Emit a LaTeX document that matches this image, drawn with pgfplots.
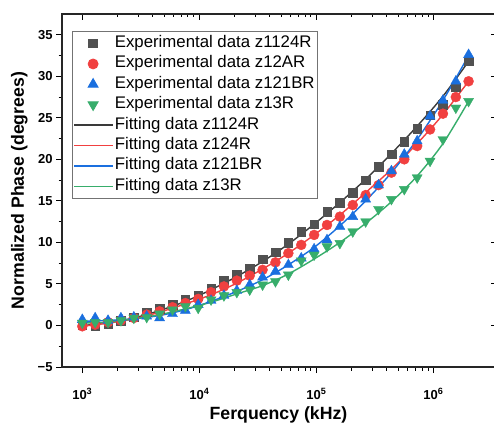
\documentclass[border=0pt]{standalone}
\usepackage{fontspec}
\setmainfont{Liberation Sans}
\usepackage{pgfplots}
\usepackage{pgfplotstable}
\pgfplotsset{compat=1.18}
\pgfplotsset{legend image code/.code={\draw[mark repeat=2,mark phase=2,#1] plot coordinates {(0pt,0pt) (19pt,0pt) (38pt,0pt)};}}
\definecolor{cblk}{HTML}{515151}
\definecolor{cblkl}{HTML}{3A3A3A}
\definecolor{cred}{HTML}{F14040}
\definecolor{cblu}{HTML}{1A6FDF}
\definecolor{cgrn}{HTML}{37AD6B}
\pgfplotstableread{
f        blk   red   blu   grn
1000     0.1  -0.1   0.7   0.3
1288    -0.1   0.1   0.9   0.4
1660     0.2   0.4   0.6   0.4
2139     0.6   0.6   0.9   0.6
2757     1.0   0.9   1.0   0.9
3552     1.6   1.3   1.1   1.0
4577     2.0   1.7   0.9   1.4
5897     2.5   2.2   1.4   1.9
7599     3.1   2.7   1.8   2.3
9779     3.6   3.2   2.5   2.1
12600    4.5   4.0   3.0   3.1
16234    5.4   4.7   3.6   3.6
20918    6.1   5.4   4.2   4.0
26953    6.8   6.0   4.9   4.3
34729    8.0   6.7   5.8   4.9
44749    8.8   7.6   6.5   5.3
57660    10.0  8.7   7.3   6.1
74296    11.3  9.7   8.1   7.8
95733    12.2  10.9  9.2   8.5
123350   13.7  12.1  10.3  9.5
158940   14.8  13.1  11.9  9.9
204800   16.0  14.5  13.1  11.3
263890   17.5  15.7  15.2  12.5
340020   19.1  16.9  16.9  14.0
438120   20.6  18.4  18.6  15.2
564530   22.1  20.0  20.6  16.4
727400   23.7  21.6  22.2  17.8
937260   25.3  23.6  25.2  19.8
1207700  26.6  25.5  27.1  22.4
1556100  28.7  27.5  29.4  26.2
2000000  31.8  29.4  32.6  27.0
}\expdata
\pgfplotstableread{
f        blk   red   blu   grn
1000     0.0  -0.1   0.5   0.3
1660     0.3   0.3   0.6   0.4
2757     0.9   0.8   0.8   0.8
4577     1.8   1.6   1.2   1.3
7599     2.9   2.6   1.9   2.0
12600    4.3   3.7   2.9   2.8
20918    5.9   5.1   4.1   3.8
34729    7.7   6.8   5.5   4.8
57660    9.8   8.7   7.3   6.2
95733    12.2  10.9  9.4   8.0
158940   14.8  13.3  12.0  10.0
263890   17.6  16.0  15.0  12.3
438120   20.7  18.8  18.4  14.9
727400   24.0  21.9  22.4  18.0
1207700  27.6  25.4  27.1  21.9
2000000  31.8  29.4  32.5  27.0
}\fitdata
\begin{document}
\begin{tikzpicture}
\begin{axis}[
  at={(0,0)}, anchor=south west, scale only axis,
  width=435pt, height=353pt,
  xmode=log, xmin=670.8, xmax=3.50e6, ymin=-5, ymax=37.5,
  xtick={1000,10000,100000,1000000},
  xticklabels={10\textsuperscript{3},10\textsuperscript{4},10\textsuperscript{5},10\textsuperscript{6}},
  ytick={-5,0,5,10,15,20,25,30,35},
  yticklabels={−5,0,5,10,15,20,25,30,35},
  minor y tick num=1,
  major tick length=6pt, minor tick length=3.5pt,
  tick style={black, line width=1pt},
  axis line style={line width=1.2pt, black!85},
  xtick pos=bottom, ytick pos=left, tick align=outside,
  ticklabel style={font=\bfseries\fontsize{13}{15}\selectfont},
  xticklabel style={yshift=-12pt},
  xlabel={Ferquency (kHz)},
  ylabel={Normalized Phase (degrees)},
  label style={font=\bfseries\fontsize{17.7}{20}\selectfont},
  xlabel style={at={(axis description cs:0.4977,0)}, anchor=base, yshift=-52pt},
  ylabel style={at={(axis description cs:-0.098,0.5)}, anchor=center},
  legend cell align=left,
  legend style={at={(rel axis cs:0.023,0.952)}, anchor=north west,
    font=\fontsize{16.8}{19}\selectfont, draw=black!55, line width=0.8pt,
    inner xsep=1pt, inner ysep=2pt,
    nodes={text height=11.6pt, text depth=3.6pt, inner ysep=2.6pt}},
]
\addplot[only marks, mark=square*, mark size=4.3pt, color=cblk] table[x=f, y=blk] {\expdata};
\addlegendentry{Experimental data z1124R}
\addplot[only marks, mark=*, mark size=5pt, color=cred] table[x=f, y=red] {\expdata};
\addlegendentry{Experimental data z12AR}
\addplot[only marks, mark=triangle*, mark size=5.8pt, color=cblu] table[x=f, y=blu] {\expdata};
\addlegendentry{Experimental data z121BR}
\addplot[only marks, mark=triangle*, mark size=5.8pt, mark options={rotate=180}, color=cgrn] table[x=f, y=grn] {\expdata};
\addlegendentry{Experimental data z13R}
\addplot[smooth, no marks, line width=1.4pt, color=cblkl] table[x=f, y=blk] {\fitdata};
\addlegendentry{Fitting data z1124R}
\addplot[smooth, no marks, line width=1.4pt, color=cred] table[x=f, y=red] {\fitdata};
\addlegendentry{Fitting data z124R}
\addplot[smooth, no marks, line width=1.4pt, color=cblu] table[x=f, y=blu] {\fitdata};
\addlegendentry{Fitting data z121BR}
\addplot[smooth, no marks, line width=1.4pt, color=cgrn] table[x=f, y=grn] {\fitdata};
\addlegendentry{Fitting data z13R}
\end{axis}
\begin{axis}[
  at={(0,0)}, anchor=south west, scale only axis,
  width=435pt, height=353pt,
  xmode=log, xmin=670.8, xmax=3.50e6, ymin=-5, ymax=37.5,
  xtick={1000,10000,100000,1000000},
  ytick={-5,0,5,10,15,20,25,30,35},
  minor y tick num=1,
  major tick length=6pt, minor tick length=3.5pt,
  tick style={black, line width=1pt},
  axis line style={line width=1.2pt, black!85},
  xtick pos=top, ytick pos=right, tick align=inside,
  xticklabels={}, yticklabels={},
]
\addplot[draw=none] coordinates {(1000,0)};
\end{axis}
\pgfresetboundingbox
\path[use as bounding box] (-62pt,-56pt) rectangle (432pt,367pt);
\end{tikzpicture}
\end{document}
